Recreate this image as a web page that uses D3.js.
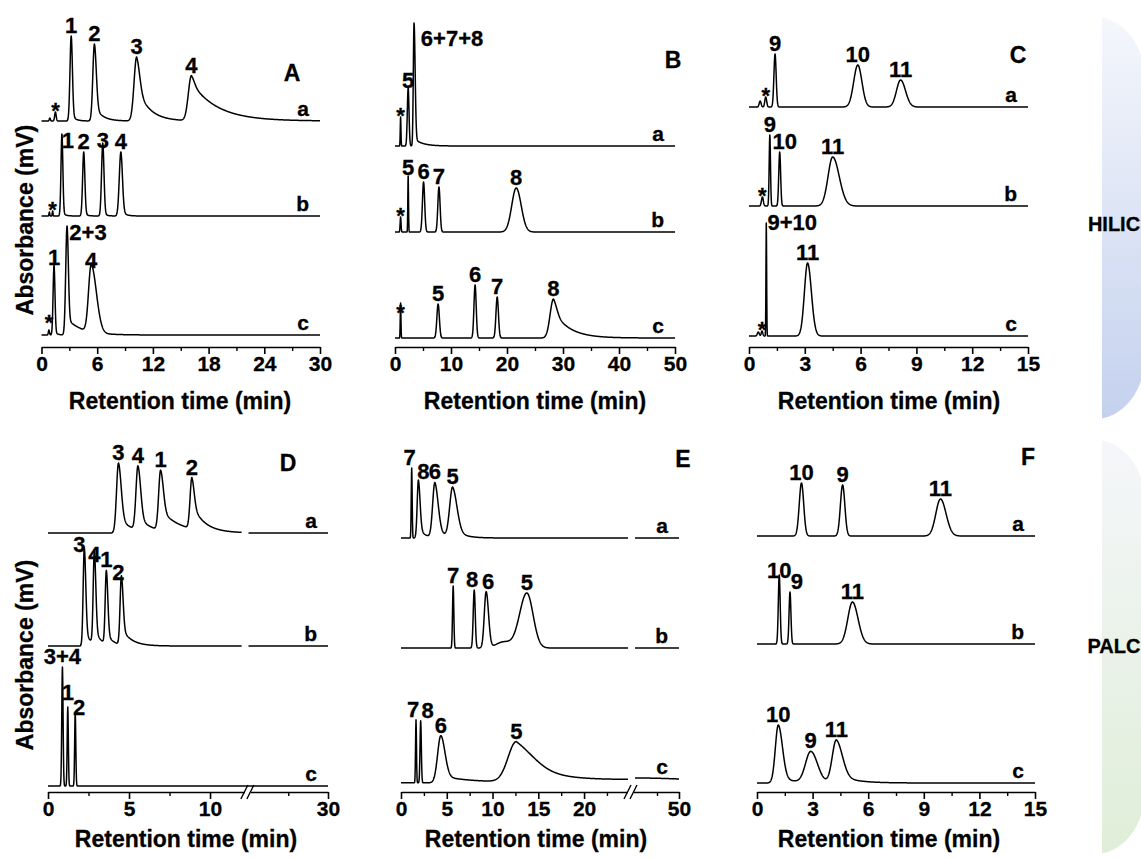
<!DOCTYPE html>
<html>
<head>
<meta charset="utf-8">
<script src="https://cdn.jsdelivr.net/npm/d3@7"></script>
<style>
body { margin: 0; background: #fff; }
text { font-family: "Liberation Sans", Arial, sans-serif; font-weight: bold; fill: #000; stroke: #000; stroke-width: 0.3px; }
</style>
</head>
<body>
<svg id="chart" width="1141" height="858"></svg>
<script>
const traceNames = ["a", "b", "c"];

// peaks: [retention time (min), height (mV), sigma (min), right asymmetry, tail fraction, tail tau (min)]
const peaksA = {
    a: [[0.9, 3, 0.06], [1.5, 9, 0.08], [3.2, 85, 0.13, 1, 0.08, 0.4], [5.7, 77, 0.17, 1.2, 0.2, 0.8], [10.25, 64, 0.28, 1.2, 0.55, 1.3], [16.15, 45, 0.33, 1, 0.85, 2.8]],
    b: [[0.85, 4, 0.04], [1.2, 5, 0.04], [2.2, 82, 0.1, 1, 0.05, 0.3], [4.55, 64, 0.12, 1, 0.05, 0.3], [6.6, 73, 0.13, 1, 0.05, 0.3], [8.55, 64, 0.17, 1, 0.1, 0.4]],
    c: [[0.8, 5, 0.06], [1.35, 70, 0.1, 1, 0.05, 0.3], [2.75, 109, 0.14, 1, 0.15, 1.6], [5.35, 67, 0.28, 2]]
};
const labelsA = { a: ["", "*", "1", "2", "3", "4"], b: ["", "*", "1", "2", "3", "4"], c: ["*", "1", "2+3", "4"] };
const offsetsA = [226, 131, 12];
const ticksA = [0, 6, 12, 18, 24, 30];
const minorA = [3, 9, 15, 21, 27];

const peaksB = {
    a: [[1.0, 29, 0.06], [2.35, 58, 0.15], [3.4, 123, 0.13, 1.5, 0.06, 1.5]],
    b: [[1.0, 15, 0.08], [2.35, 56, 0.06], [5.1, 50, 0.2], [7.85, 45, 0.2], [21.65, 44, 0.8, 1.1]],
    c: [[1.0, 35, 0.06], [7.7, 34, 0.22], [14.3, 53, 0.2], [18.25, 41, 0.22], [28.3, 39, 0.6, 1, 0.7, 2.8]]
};
const labelsB = { a: ["*", "5", "6+7+8"], b: ["*", "5", "6", "7", "8"], c: ["*", "5", "6", "7", "8"] };
const offsetsB = [201, 115, 9];
const ticksB = [0, 10, 20, 30, 40, 50];
const minorB = [5, 15, 25, 35, 45];

const peaksC = {
    a: [[0.6, 6, 0.05], [0.9, 10, 0.05], [1.4, 53, 0.06], [5.85, 42, 0.22], [8.15, 27, 0.22, 1.2]],
    b: [[0.72, 9, 0.05], [1.12, 71, 0.035], [1.65, 54, 0.05], [4.5, 49, 0.25, 1.4]],
    c: [[0.5, 4, 0.05], [0.7, 5, 0.04], [0.93, 113, 0.018], [3.15, 73, 0.17, 1.2]]
};
const labelsC = { a: ["", "*", "9", "10", "11"], b: ["*", "9", "10", "11"], c: ["", "*", "9+10", "11"] };
const offsetsC = [240, 141, 11];
const ticksC = [0, 3, 6, 9, 12, 15];
const minorC = [1.5, 4.5, 7.5, 10.5, 13.5];

const peaksD = {
    a: [[4.35, 70, 0.12, 1.4, 0.25, 0.7], [5.55, 64, 0.12, 1.4, 0.22, 0.8], [6.95, 60, 0.12, 1.4, 0.35, 1.2], [8.88, 51, 0.11, 1.3, 0.5, 0.7]],
    b: [[2.24, 98, 0.07, 1.3, 0.15, 0.4], [2.86, 92, 0.07, 1.3, 0.15, 0.4], [3.6, 73, 0.07, 1.3, 0.15, 0.4], [4.53, 69, 0.08, 1.3, 0.25, 0.6]],
    c: [[0.89, 119, 0.04], [1.22, 79, 0.035], [1.68, 73, 0.035]]
};
const labelsD = { a: ["3", "4", "1", "2"], b: ["3", "4", "1", "2"], c: ["3+4", "1", "2"] };
const offsetsD = [259, 146, 6];
const ticksD = [0, 5, 10, 30];
const minorD = [2.5, 7.5, 25];

const peaksE = {
    a: [[1.17, 70, 0.05], [1.9, 58, 0.13, 1.4, 0.2, 0.6], [3.7, 55, 0.24, 1.5, 0.2, 0.8], [5.64, 50, 0.32, 1.5, 0.2, 1.0]],
    b: [[5.7, 62, 0.07], [8.0, 58, 0.11], [9.3, 56, 0.2, 1.3], [11.2, 6, 0.8], [13.75, 55, 0.8, 0.85]],
    c: [[1.64, 63, 0.05], [2.15, 62, 0.07], [4.35, 47, 0.35, 1.3, 0.15, 3], [12.6, 40, 0.9, 2.2, 0.6, 3.5], [40, 5, 15]]
};
const labelsE = { a: ["7", "8", "6", "5"], b: ["7", "8", "6", "", "5"], c: ["7", "8", "6", "5", ""] };
const offsetsE = [254, 144, 9];
const ticksE = [0, 5, 10, 15, 20, 50];
const minorE = [2.5, 7.5, 12.5, 17.5, 22.5, 45];

const peaksF = {
    a: [[2.4, 53, 0.12], [4.62, 51, 0.12], [9.9, 37, 0.25, 1.2]],
    b: [[1.2, 69, 0.05], [1.78, 52, 0.05], [5.15, 42, 0.25, 1.2]],
    c: [[1.15, 58, 0.16, 1.4, 0.1, 0.8], [2.9, 31, 0.28, 1.3], [4.28, 43, 0.22, 1.5, 0.2, 0.9]]
};
const labelsF = { a: ["10", "9", "11"], b: ["10", "9", "11"], c: ["10", "9", "11"] };
const offsetsF = [256, 148, 9];
const ticksF = [0, 3, 6, 9, 12, 15];
const minorF = [1.5, 4.5, 7.5, 10.5, 13.5];

// layout
const panels = [
    { id: "A", peaks: peaksA, labels: labelsA, offsets: offsetsA, ticks: ticksA, minor: minorA,
      domain: [0, 30], range: [41.5, 320], axisY: 347, letter: [292, 81], titleX: 180 },
    { id: "B", peaks: peaksB, labels: labelsB, offsets: offsetsB, ticks: ticksB, minor: minorB,
      domain: [0, 50], range: [395, 675], axisY: 347, letter: [673, 68], titleX: 535 },
    { id: "C", peaks: peaksC, labels: labelsC, offsets: offsetsC, ticks: ticksC, minor: minorC,
      domain: [0, 15], range: [749, 1028], axisY: 347, letter: [1018, 63], titleX: 889 },
    { id: "D", peaks: peaksD, labels: labelsD, offsets: offsetsD, ticks: ticksD, minor: minorD,
      domain: [0, 12.3, 20, 30], range: [48, 247.3, 248.5, 328], axisY: 792, letter: [288, 471], titleX: 186,
      breakX: 247.9, segments: { a: [[0, 11.95], [20, 30]], b: [[0, 11.95], [20, 30]], c: [[0, 30]] } },
    { id: "E", peaks: peaksE, labels: labelsE, offsets: offsetsE, ticks: ticksE, minor: minorE,
      domain: [0, 24.8, 40, 50], range: [401, 628, 635, 679], axisY: 792, letter: [683, 467], titleX: 536,
      breakX: 631, segments: { a: [[0, 24.8], [40, 50]], b: [[0, 24.8], [40, 50]], c: [[0, 24.8], [40, 50]] } },
    { id: "F", peaks: peaksF, labels: labelsF, offsets: offsetsF, ticks: ticksF, minor: minorF,
      domain: [0, 15], range: [757, 1035], axisY: 792, letter: [1028, 465], titleX: 889 }
];

// label nudges [dx, dy] in px
const labelNudge = {
    "A-b-1": [6, 17], "A-b-3": [0, 8], "A-c-*": [0, -6], "A-c-1": [0, 3], "A-c-2+3": [21, 17], "A-c-4": [0, 6],
    "B-a-5": [0, 3], "B-a-6+7+8": [38, 26], "B-b-5": [0, 2], "B-c-*": [0, 11],
    "C-b-10": [5, 0], "C-c-9+10": [26, 10],
    "D-b-3": [-5, 7], "D-b-4": [0, 14], "D-b-2": [-3, 7], "D-c-1": [0, -4], "D-c-2": [4, 5],
    "E-a-7": [-2, 0], "E-a-8": [5, 2], "E-b-8": [-2, 0], "E-b-6": [2, 0], "E-c-7": [-3, 0], "E-c-8": [7, 0],
    "F-b-10": [0, 6], "F-b-9": [7, 0]
};

function peakValue(t, p) {
    const [t0, h, s, asym = 1, f = 0, tau = 1] = p;
    const dt = t - t0;
    if (dt <= 0) return h * Math.exp(-0.5 * (dt / s) ** 2);
    const g = Math.exp(-0.5 * (dt / (s * asym)) ** 2);
    return h * ((1 - f) * g + f * Math.exp(-dt / tau));
}

const svg = d3.select("#chart");
const defs = svg.append("defs");

function addGradient(id, top, bottom) {
    const gr = defs.append("linearGradient").attr("id", id)
        .attr("x1", 0).attr("y1", 0).attr("x2", 0).attr("y2", 1);
    gr.append("stop").attr("offset", "0%").attr("stop-color", top);
    gr.append("stop").attr("offset", "100%").attr("stop-color", bottom);
}
addGradient("gHilic", "#f5f7fc", "#c4d1ee");
addGradient("gPalc", "#f5f6fa", "#dfeed8");

defs.append("clipPath").attr("id", "sideClip")
    .append("rect").attr("x", 1102).attr("y", 0).attr("width", 60).attr("height", 858);

// side bands
const side = svg.append("g").attr("clip-path", "url(#sideClip)");
side.append("rect").attr("x", 1045).attr("y", 17).attr("width", 100).attr("height", 402)
    .attr("rx", 50).attr("ry", 63).attr("fill", "url(#gHilic)");
side.append("rect").attr("x", 1045).attr("y", 440).attr("width", 100).attr("height", 414)
    .attr("rx", 50).attr("ry", 63).attr("fill", "url(#gPalc)");

svg.append("text").attr("x", 1114).attr("y", 231).attr("text-anchor", "middle")
    .style("font-size", "20px").text("HILIC");
svg.append("text").attr("x", 1114).attr("y", 653).attr("text-anchor", "middle")
    .style("font-size", "20px").text("PALC");

// y titles
[220, 655].forEach(cy => {
    svg.append("text")
        .attr("transform", `translate(25,${cy}) rotate(-90)`)
        .attr("text-anchor", "middle").attr("dy", "0.35em")
        .style("font-size", "23px")
        .text("Absorbance (mV)");
});

panels.forEach(p => {
    const g = svg.append("g").attr("class", "panel");
    const x = d3.scaleLinear().domain(p.domain).range(p.range);
    const y = d3.scaleLinear().domain([0, 300]).range([p.axisY, p.axisY - 300]);
    const tEnd = p.domain[p.domain.length - 1];
    const xEnd = p.range[p.range.length - 1];

    const signal = (peaks, off, t) => off + d3.sum(peaks, pk => peakValue(t, pk));
    const line = d3.line().x(d => x(d[0])).y(d => y(d[1]));

    traceNames.forEach((name, i) => {
        const peaks = p.peaks[name];
        const off = p.offsets[i];
        const segs = p.segments ? p.segments[name] : [[p.domain[0], tEnd]];

        segs.forEach(([t0, t1]) => {
            const x0 = x(t0), x1 = x(t1);
            let ts = d3.range(x0, x1, 0.25).map(px => x.invert(px));
            ts.push(t1);
            peaks.forEach(pk => { if (pk[0] > t0 && pk[0] < t1) ts.push(pk[0]); });
            ts.sort((m, n) => m - n);
            const pts = ts.map(t => [t, signal(peaks, off, t)]);
            g.append("path")
                .attr("d", line(pts))
                .attr("fill", "none")
                .attr("stroke", "#000")
                .attr("stroke-width", 1.5)
                .attr("stroke-linejoin", "round");
        });

        // peak labels
        p.labels[name].forEach((lab, j) => {
            if (!lab) return;
            const pk = peaks[j];
            const top = y(signal(peaks, off, pk[0]));
            const nudge = labelNudge[`${p.id}-${name}-${lab}`] || [0, 0];
            const base = lab === "*" ? top + 6 : top - 3;
            g.append("text")
                .attr("x", x(pk[0]) + nudge[0])
                .attr("y", base + nudge[1])
                .attr("text-anchor", "middle")
                .style("font-size", "22px")
                .text(lab);
        });

        // trace letter
        g.append("text")
            .attr("x", xEnd - 11)
            .attr("y", y(signal(peaks, off, tEnd)) - 5)
            .attr("text-anchor", "end")
            .style("font-size", "21px")
            .text(name);
    });

    // x axis
    const axis = g.append("g").attr("transform", `translate(0,${p.axisY})`)
        .call(d3.axisBottom(x).tickValues(p.ticks).tickSize(7).tickSizeOuter(0).tickPadding(2));
    axis.select(".domain").attr("stroke-width", 1.6);
    axis.selectAll(".tick line").attr("stroke-width", 1.6);
    axis.selectAll(".tick text").style("font-size", "21px")
        .style("font-family", '"Liberation Sans", Arial, sans-serif').style("font-weight", "bold")
        .attr("stroke", "#000").attr("stroke-width", 0.3);
    const minorAxis = g.append("g").attr("transform", `translate(0,${p.axisY})`)
        .call(d3.axisBottom(x).tickValues(p.minor).tickSize(4).tickFormat(""));
    minorAxis.select(".domain").remove();
    minorAxis.selectAll(".tick line").attr("stroke-width", 1.4);

    if (p.breakX) {
        g.append("rect").attr("x", p.breakX - 3).attr("y", p.axisY - 2).attr("width", 6).attr("height", 4)
            .attr("fill", "#fff");
        [-3, 3].forEach(dx => {
            g.append("line")
                .attr("x1", p.breakX + dx - 4).attr("y1", p.axisY + 7)
                .attr("x2", p.breakX + dx + 3).attr("y2", p.axisY - 7)
                .attr("stroke", "#000").attr("stroke-width", 1.4);
        });
    }

    // titles
    g.append("text")
        .attr("x", p.titleX)
        .attr("y", p.axisY + (p.axisY > 500 ? 55 : 62))
        .attr("text-anchor", "middle")
        .style("font-size", "23px")
        .text("Retention time (min)");
    g.append("text")
        .attr("x", p.letter[0]).attr("y", p.letter[1])
        .attr("text-anchor", "middle")
        .style("font-size", "23px")
        .text(p.id);
});
</script>
</body>
</html>
